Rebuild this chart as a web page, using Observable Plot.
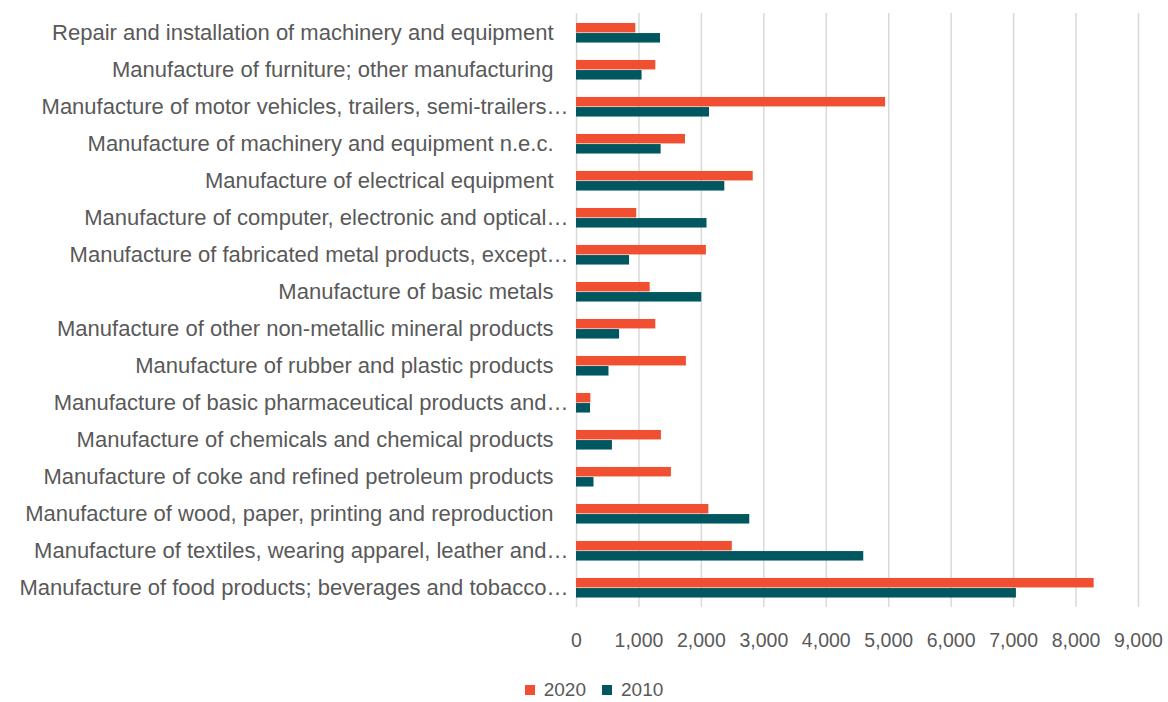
<!DOCTYPE html>
<html>
<head>
<meta charset="utf-8">
<script src="https://cdn.jsdelivr.net/npm/d3@7"></script>
<script src="https://cdn.jsdelivr.net/npm/@observablehq/plot@0.6"></script>
<style>
  html, body { margin: 0; padding: 0; background: #fff; }
  #chart svg { display: block; }
  #legend { height: 42px; box-sizing: border-box; padding-top: 18px; padding-left: 20px;
    display: flex; justify-content: center; align-items: center; line-height: 24px;
    font-family: "Liberation Sans", Arial, sans-serif; font-size: 19px; color: #595959; }
  #legend .sw { display: inline-block; width: 10px; height: 10px; margin-right: 9px; }
  #legend .item { display: inline-flex; align-items: center; margin: 0 8px; }
</style>
</head>
<body>
<div id="chart"></div>
<div id="legend"></div>
<script>
const categories = [
  "Repair and installation of machinery and equipment",
  "Manufacture of furniture; other manufacturing",
  "Manufacture of motor vehicles, trailers, semi-trailers…",
  "Manufacture of machinery and equipment n.e.c.",
  "Manufacture of electrical equipment",
  "Manufacture of computer, electronic and optical…",
  "Manufacture of fabricated metal products, except…",
  "Manufacture of basic metals",
  "Manufacture of other non-metallic mineral products",
  "Manufacture of rubber and plastic products",
  "Manufacture of basic pharmaceutical products and…",
  "Manufacture of chemicals and chemical products",
  "Manufacture of coke and refined petroleum products",
  "Manufacture of wood, paper, printing and reproduction",
  "Manufacture of textiles, wearing apparel, leather and…",
  "Manufacture of food products; beverages and tobacco…"
];
const values2020 = [950, 1270, 4950, 1745, 2830, 965, 2080, 1180, 1270, 1760, 230, 1360, 1520, 2120, 2495, 8290];
const values2010 = [1345, 1050, 2130, 1355, 2375, 2090, 850, 2005, 690, 520, 225, 575, 280, 2775, 4600, 7045];
const series = ["2020", "2010"];
const xTicks = [0, 1000, 2000, 3000, 4000, 5000, 6000, 7000, 8000, 9000];
const colors = {"2020": "#F04F31", "2010": "#00575F"};

const rows = [];
categories.forEach((c, i) => {
  rows.push({category: c, year: "2020", value: values2020[i]});
  rows.push({category: c, year: "2010", value: values2010[i]});
});

const W = 1168, H = 660, MT = 13, MB = 53;
const band = (H - MT - MB) / categories.length;
const barH = 9.6;
const font = "Liberation Sans, Arial, sans-serif";
const truncated = categories.filter(c => c.endsWith("…"));
const normal = categories.filter(c => !c.endsWith("…"));

const chart = Plot.plot({
  width: W,
  height: H,
  marginLeft: 576,
  marginRight: 30,
  marginTop: MT,
  marginBottom: MB,
  style: {fontFamily: font, color: "#595959", background: "#fff"},
  x: {domain: [0, 9000], axis: null},
  y: {domain: categories, type: "band", padding: 0, axis: null},
  marks: [
    Plot.ruleX(xTicks, {stroke: "#D9D9D9", strokeWidth: 1.5}),
    Plot.barX(rows.filter(d => d.year === "2020"), {
      y: "category", x: "value", fill: colors["2020"],
      insetTop: band / 2 - barH, insetBottom: band / 2
    }),
    Plot.barX(rows.filter(d => d.year === "2010"), {
      y: "category", x: "value", fill: colors["2010"],
      insetTop: band / 2 + 0.5, insetBottom: band / 2 - barH - 0.5
    }),
    Plot.axisX(xTicks, {
      anchor: "bottom", tickSize: 0, tickPadding: 26, fontSize: 19.5,
      tickFormat: d3.format(","), fill: "#595959", label: null
    }),
    Plot.axisY(normal, {
      anchor: "left", tickSize: 0, tickPadding: 23, fontSize: 22, fill: "#595959", label: null
    }),
    Plot.axisY(truncated, {
      anchor: "left", tickSize: 0, tickPadding: 8, fontSize: 22, fill: "#595959", label: null
    })
  ]
});
document.getElementById("chart").appendChild(chart);

const legend = document.getElementById("legend");
series.forEach(s => {
  const item = document.createElement("span");
  item.className = "item";
  const sw = document.createElement("span");
  sw.className = "sw";
  sw.style.background = colors[s];
  item.appendChild(sw);
  item.appendChild(document.createTextNode(s));
  legend.appendChild(item);
});
</script>
</body>
</html>
